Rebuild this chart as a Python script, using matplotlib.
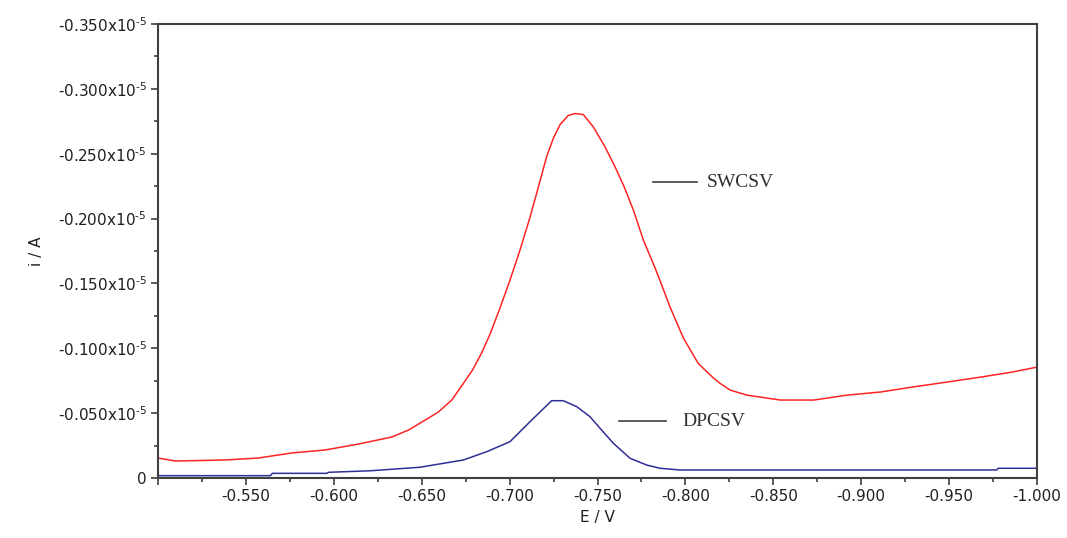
import matplotlib
matplotlib.use("Agg")
import matplotlib.pyplot as plt
from matplotlib.ticker import MultipleLocator, FuncFormatter

plt.rcParams['font.family'] = ['DejaVu Sans']
plt.rcParams['axes.unicode_minus'] = False
plt.rcParams['mathtext.default'] = 'regular'

# square-wave stripping voltammogram, current in units of 1e-5 A
sw_potential = [-0.500, -0.510, -0.538, -0.557, -0.576, -0.595, -0.614, -0.633,
                -0.6425, -0.652, -0.6595, -0.6671, -0.6737, -0.6790, -0.6841, -0.6889,
                -0.6945, -0.7002, -0.7059, -0.7116, -0.7163, -0.7211, -0.7249, -0.7287,
                -0.7334, -0.7372, -0.7419, -0.7476, -0.7543, -0.7600, -0.7650, -0.7704,
                -0.7761, -0.7827, -0.7856, -0.7912, -0.7988, -0.8073, -0.8160, -0.8197,
                -0.8254, -0.8350, -0.8540, -0.8730, -0.8920, -0.9110, -0.9290, -0.9490,
                -0.9680, -0.9860, -1.000]
sw_current = [-0.0154, -0.0131, -0.0139, -0.0154, -0.0193, -0.0216, -0.0262, -0.0316,
              -0.0370, -0.0447, -0.0509, -0.0601, -0.0729, -0.0835, -0.0965, -0.1110,
              -0.1310, -0.1525, -0.1757, -0.2010, -0.2240, -0.2480, -0.2620, -0.2725,
              -0.2795, -0.2810, -0.2802, -0.2707, -0.2552, -0.2398, -0.2250, -0.2065,
              -0.1834, -0.1620, -0.1520, -0.1320, -0.1080, -0.0883, -0.0770, -0.0730,
              -0.0678, -0.0639, -0.0601, -0.0601, -0.0639, -0.0663, -0.0701, -0.0740,
              -0.0778, -0.0817, -0.0855]

# differential-pulse stripping voltammogram
dp_potential = [-0.500, -0.564, -0.565, -0.596, -0.597, -0.621, -0.649, -0.6737,
                -0.6870, -0.7002, -0.7116, -0.7239, -0.7305, -0.7382, -0.7457, -0.7514,
                -0.7590, -0.7685, -0.7780, -0.7856, -0.7969, -0.977, -0.978, -1.000]
dp_current = [-0.0018, -0.0018, -0.0036, -0.0036, -0.0044, -0.0056, -0.0083, -0.0139,
              -0.0203, -0.0280, -0.0434, -0.0596, -0.0596, -0.0550, -0.0473, -0.0384,
              -0.0268, -0.0152, -0.0100, -0.0075, -0.0062, -0.0062, -0.0075, -0.0075]

fig = plt.figure(figsize=(10.67, 5.38), dpi=100)
ax = fig.add_axes([0.1481, 0.1115, 0.8238, 0.8439])

ax.plot(sw_potential, sw_current, color='#ff2424', lw=1.1)
ax.plot(dp_potential, dp_current, color='#2e2e96', lw=1.1)

ax.set_xlim(-0.5, -1.0)
ax.set_ylim(0, -0.35)

ax.xaxis.set_major_locator(MultipleLocator(0.05))
ax.xaxis.set_minor_locator(MultipleLocator(0.025))
ax.yaxis.set_major_locator(MultipleLocator(0.05))
ax.yaxis.set_minor_locator(MultipleLocator(0.025))


def fmt_x(v, pos):
    if abs(v + 0.5) < 1e-6:
        return ''
    return f'{v:.3f}'


def fmt_y(v, pos):
    if abs(v) < 1e-9:
        return '0'
    # hyphen (U+2010) keeps the exponent sign short like the other minus signs
    return f'{v:.3f}x10$^{{\u20105}}$'


ax.xaxis.set_major_formatter(FuncFormatter(fmt_x))
ax.yaxis.set_major_formatter(FuncFormatter(fmt_y))

for s in ax.spines.values():
    s.set_color('#404040')
    s.set_linewidth(1.5)

ax.tick_params(which='major', direction='out', length=5, width=1.2,
               color='#404040', labelsize=11, labelcolor='#202020', pad=3)
ax.tick_params(which='minor', direction='out', length=3, width=1.2, color='#404040')

ax.set_xlabel('E / V', fontsize=11, color='#202020', labelpad=4)
ax.set_ylabel('i / A', fontsize=11, color='#202020', labelpad=10)

# curve labels
ax.plot([-0.7816, -0.8066], [-0.228, -0.228], color='#404040', lw=1.2)
ax.text(-0.8123, -0.228, 'SWCSV', family='Liberation Serif', fontsize=14,
        color='#303030', va='center', ha='left')
ax.plot([-0.7622, -0.789], [-0.0439, -0.0439], color='#404040', lw=1.2)
ax.text(-0.798, -0.0439, 'DPCSV', family='Liberation Serif', fontsize=14,
        color='#303030', va='center', ha='left')

fig.savefig('out.png', dpi=100)
